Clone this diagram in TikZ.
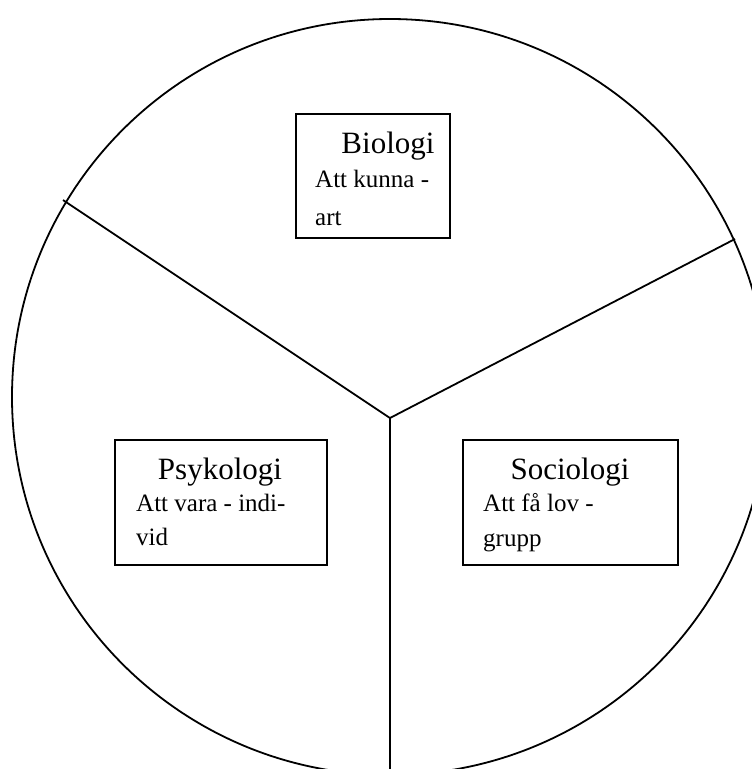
\documentclass[tikz,border=0pt]{standalone}
\usepackage{fontspec}
\setmainfont{Liberation Serif}
\begin{document}
\begin{tikzpicture}[x=1pt, y=-1pt,
    wheel/.style={line width=1.8pt},
    box/.style={draw, line width=2pt, anchor=north west, inner sep=0pt},
    head/.style={anchor=base, inner sep=0pt, font=\fontsize{31}{36}\selectfont},
    body/.style={anchor=base west, inner sep=0pt, font=\fontsize{25}{30}\selectfont}]
    \useasboundingbox (0,0) rectangle (752,769);
    % Circle and dividers
    \coordinate (c) at (390,397);
    \coordinate (mid) at (390,418);
    \coordinate (left) at (63,200);
    \coordinate (right) at (735,239);
    \coordinate (down) at (390,772);
    \draw[wheel] (c) circle (378);
    \draw[wheel] (left) -- (mid);
    \draw[wheel] (right) -- (mid);
    \draw[wheel] (mid) -- (down);

    % Biologi
    \node[box, minimum width=154pt, minimum height=124pt] (bio) at (295,113) {};
    \node[head] (biohead) at (388,153) {Biologi};
    \node[body] (biotxt1) at (315,187) {Att kunna -};
    \node[body] (biotxt2) at (315,225) {art};

    % Psykologi
    \node[box, minimum width=212pt, minimum height=125pt] (psy) at (114,439) {};
    \node[head] (psyhead) at (220,479) {Psykologi};
    \node[body] (psytxt1) at (136,511) {Att vara - indi-};
    \node[body] (psytxt2) at (136,545) {vid};

    % Sociologi
    \node[box, minimum width=215pt, minimum height=125pt] (soc) at (462,439) {};
    \node[head] (sochead) at (570,479) {Sociologi};
    \node[body] (soctxt1) at (483,511) {Att få lov -};
    \node[body] (soctxt2) at (483,546) {grupp};
\end{tikzpicture}
\end{document}
